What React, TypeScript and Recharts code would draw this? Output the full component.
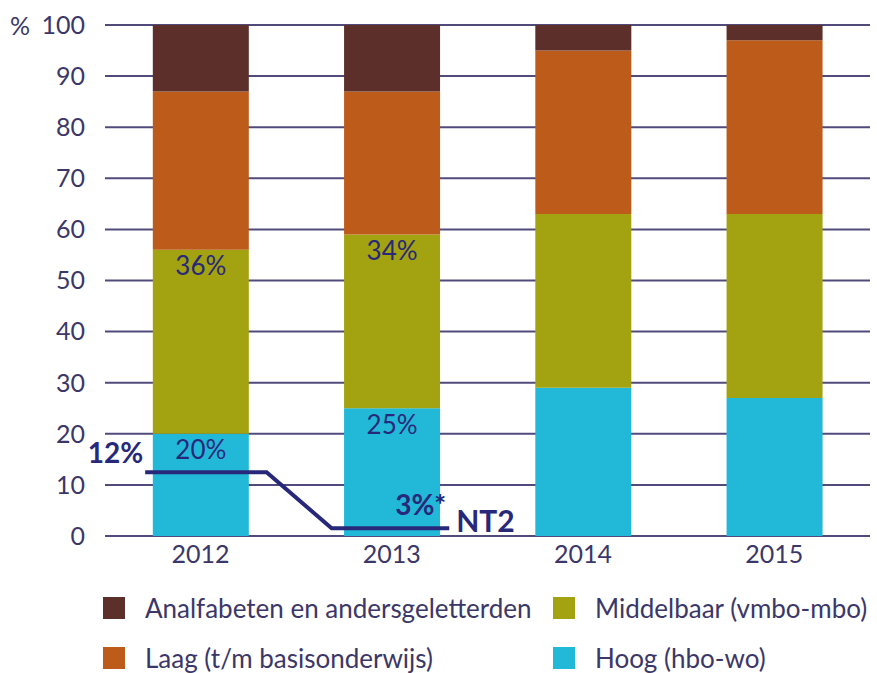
import { ComposedChart, Bar, Line, XAxis, YAxis, CartesianGrid, Legend, LabelList } from 'recharts';

const years = ['2012', '2013', '2014', '2015'];
const hoog = [20, 25, 29, 27];
const middelbaar = [36, 34, 34, 36];
const laag = [31, 28, 32, 34];
const analfabeten = [13, 13, 5, 3];
const hoogLabels = ['20%', '25%', '', ''];
const middelbaarLabels = ['36%', '34%', '', ''];
const yTicks = [0, 10, 20, 30, 40, 50, 60, 70, 80, 90, 100];

// NT2 line, x in category units (0 = left edge of the plot)
const nt2X = [0.21, 0.845, 1.185, 1.8];
const nt2Y = [12.5, 12.5, 1.5, 1.5];
const nt2Labels = ['12%', '', '', '3%*'];
const nt2Name = 'NT2';

const seriesNames = {
  analf: 'Analfabeten en andersgeletterden',
  midd: 'Middelbaar (vmbo-mbo)',
  laag: 'Laag (t/m basisonderwijs)',
  hoog: 'Hoog (hbo-wo)',
};

const COLORS = {
  analf: '#5c2f2a',
  laag: '#bd5b1b',
  midd: '#a3a311',
  hoog: '#22b8d8',
  nt2: '#28287a',
  text: '#3b3768',
  grid: '#514b7c',
};

const FONT = 'Lato, "Open Sans", sans-serif';

const data = years.map((year, i) => ({
  year,
  hoog: hoog[i],
  midd: middelbaar[i],
  laag: laag[i],
  analf: analfabeten[i],
  hoogLabel: hoogLabels[i],
  middLabel: middelbaarLabels[i],
}));

const nt2Data = nt2X.map((x, i) => ({ x, y: nt2Y[i], label: nt2Labels[i] }));

function LegendBox() {
  const items: Array<[keyof typeof COLORS, number, number]> = [
    ['analf', 103, 14],
    ['midd', 553, 14],
    ['laag', 103, 64],
    ['hoog', 553, 64],
  ];
  return (
    <div style={{ position: 'relative', width: 877, height: 90, fontFamily: FONT }}>
      {items.map(([key, left, top]) => (
        <div key={key} style={{ position: 'absolute', left, top, display: 'flex', alignItems: 'center', height: 22 }}>
          <div style={{ width: 22, height: 22, background: COLORS[key] }} />
          <span style={{ marginLeft: 20, fontSize: 26, lineHeight: '22px', color: COLORS.text, whiteSpace: 'nowrap' }}>
            {seriesNames[key as keyof typeof seriesNames]}
          </span>
        </div>
      ))}
    </div>
  );
}

function renderNt2Label(props: any) {
  const { x, y, index } = props;
  const text = nt2Labels[index];
  if (index === 0) {
    return (
      <text x={x - 2} y={y - 20} textAnchor="end" dominantBaseline="central" fontSize={28} fontWeight={700} fill={COLORS.nt2} fontFamily={FONT}>
        {text}
      </text>
    );
  }
  if (index === nt2Labels.length - 1) {
    return (
      <g>
        <text x={x - 3} y={y - 24} textAnchor="end" dominantBaseline="central" fontSize={28} fontWeight={700} fill={COLORS.nt2} fontFamily={FONT}>
          {text}
        </text>
        <text x={x + 7} y={y - 8} textAnchor="start" dominantBaseline="central" fontSize={30} fontWeight={700} fill={COLORS.nt2} fontFamily={FONT}>
          {nt2Name}
        </text>
      </g>
    );
  }
  return null;
}

export default function App() {
  return (
    <div style={{ position: 'absolute', left: 0, top: 0, width: 877, height: 673, background: '#fff' }}>
      <ComposedChart
        width={877}
        height={673}
        data={data}
        barCategoryGap="25%"
        margin={{ top: 25, right: 7, bottom: 0, left: 0 }}
      >
        <CartesianGrid vertical={false} stroke={COLORS.grid} strokeWidth={2} />
        <XAxis
          dataKey="year"
          axisLine={false}
          tickLine={false}
          tickSize={0}
          tickMargin={9}
          height={47}
          tick={{ fill: COLORS.text, fontSize: 25, fontFamily: FONT }}
        />
        <XAxis xAxisId="nt2" type="number" dataKey="x" domain={[0, 4]} allowDataOverflow hide />
        <YAxis
          domain={[0, 100]}
          ticks={yTicks}
          width={105}
          axisLine={false}
          tickLine={false}
          tickSize={0}
          tickMargin={20}
          interval={0}
          tick={{ fill: COLORS.text, fontSize: 25, fontFamily: FONT }}
          label={{
            content: (p: any) => (
              <text x={10} y={p.viewBox.y} dominantBaseline="central" fontSize={25} fill={COLORS.text} fontFamily={FONT}>
                %
              </text>
            ),
          }}
        />
        <Legend verticalAlign="bottom" content={() => <LegendBox />} />
        <Bar dataKey="hoog" stackId="a" fill={COLORS.hoog} isAnimationActive={false}>
          <LabelList dataKey="hoogLabel" position="insideTop" offset={7} fill={COLORS.nt2} fontSize={26} fontFamily={FONT} />
        </Bar>
        <Bar dataKey="midd" stackId="a" fill={COLORS.midd} isAnimationActive={false}>
          <LabelList dataKey="middLabel" position="insideTop" offset={7} fill={COLORS.nt2} fontSize={26} fontFamily={FONT} />
        </Bar>
        <Bar dataKey="laag" stackId="a" fill={COLORS.laag} isAnimationActive={false} />
        <Bar dataKey="analf" stackId="a" fill={COLORS.analf} isAnimationActive={false} />
        <Line
          xAxisId="nt2"
          data={nt2Data}
          dataKey="y"
          stroke={COLORS.nt2}
          strokeWidth={4}
          dot={false}
          activeDot={false}
          isAnimationActive={false}
        >
          <LabelList dataKey="label" content={renderNt2Label} />
        </Line>
      </ComposedChart>
    </div>
  );
}
